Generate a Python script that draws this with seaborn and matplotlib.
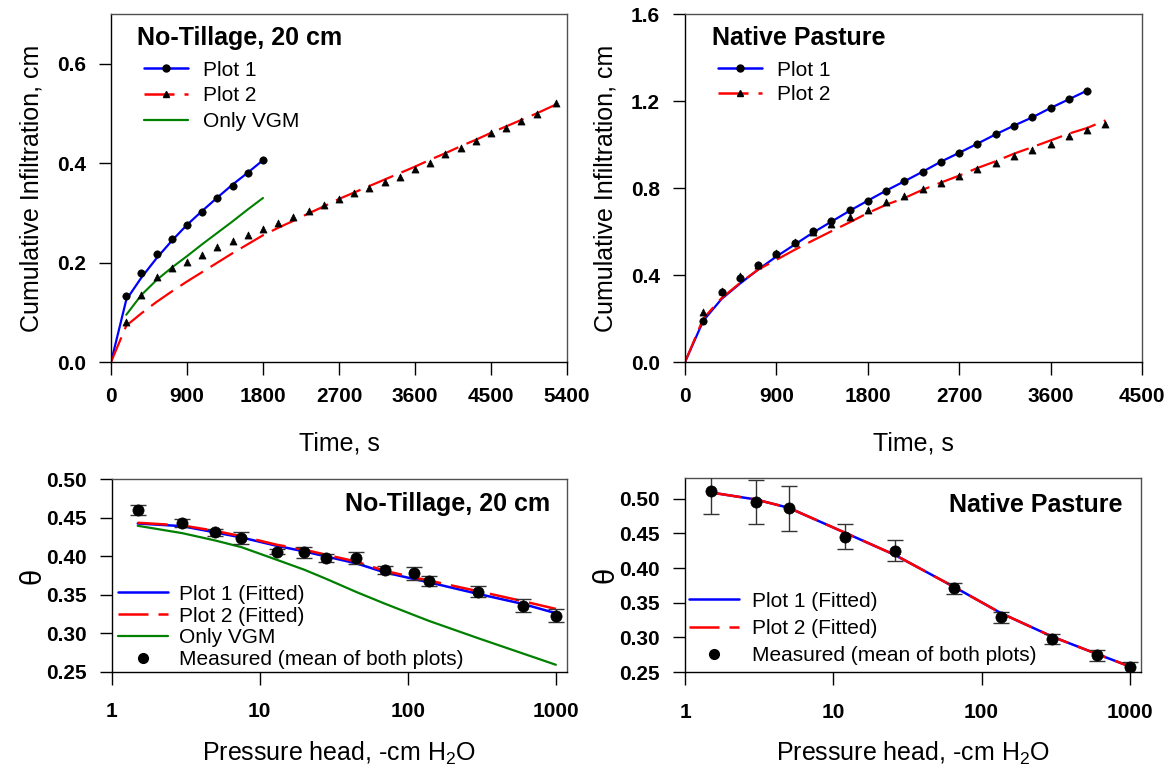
import numpy as np
import pandas as pd
import matplotlib
matplotlib.use("Agg")
import matplotlib.pyplot as plt
from matplotlib.lines import Line2D
from matplotlib.ticker import FixedLocator, NullLocator, FixedFormatter
import seaborn as sns

# ---------------- data ----------------
# Top-left: No-Tillage, 20 cm (cumulative infiltration)
nt_p1_t = [180, 360, 540, 720, 900, 1080, 1260, 1440, 1620, 1800]
nt_p1_meas = [0.132, 0.180, 0.217, 0.247, 0.276, 0.302, 0.330, 0.355, 0.380, 0.406]
nt_p1_fit_t = [0, 180, 360, 540, 720, 900, 1080, 1260, 1440, 1620, 1800]
nt_p1_fit = [0.0, 0.125, 0.170, 0.209, 0.244, 0.276, 0.304, 0.331, 0.357, 0.381, 0.406]
nt_vgm_t = [180, 360, 540, 720, 900, 1080, 1260, 1440, 1620, 1800]
nt_vgm = [0.095, 0.135, 0.165, 0.190, 0.213, 0.237, 0.260, 0.283, 0.307, 0.330]
nt_p2_t = [180, 360, 540, 720, 900, 1080, 1260, 1440, 1620, 1800, 1980, 2160, 2340, 2520,
           2700, 2880, 3060, 3240, 3420, 3600, 3780, 3960, 4140, 4320, 4500, 4680, 4860,
           5040, 5270]
nt_p2_meas = [0.080, 0.135, 0.170, 0.189, 0.202, 0.215, 0.232, 0.243, 0.255, 0.268, 0.279,
              0.292, 0.304, 0.316, 0.327, 0.339, 0.351, 0.363, 0.373, 0.389, 0.401, 0.418,
              0.431, 0.444, 0.461, 0.471, 0.485, 0.498, 0.522]
nt_p2_fit_t = [0] + nt_p2_t
nt_p2_fit = [0.0, 0.073, 0.098, 0.121, 0.142, 0.162, 0.181, 0.200, 0.219, 0.237, 0.255,
             0.270, 0.284, 0.299, 0.313, 0.328, 0.341, 0.354, 0.367, 0.380, 0.393, 0.407,
             0.420, 0.434, 0.447, 0.461, 0.474, 0.487, 0.500, 0.518]

# Top-right: Native Pasture (cumulative infiltration)
np_p1_t = [180 * i for i in range(1, 23)]
np_p1_meas = [0.187, 0.320, 0.386, 0.444, 0.498, 0.549, 0.601, 0.650, 0.697, 0.742, 0.788,
              0.831, 0.875, 0.921, 0.962, 1.004, 1.047, 1.087, 1.125, 1.168, 1.208, 1.248]
np_p1_fit_t = [0] + np_p1_t
np_p1_fit = [0.0, 0.190, 0.290, 0.360, 0.425, 0.485, 0.540, 0.595, 0.645, 0.695, 0.742,
             0.788, 0.831, 0.875, 0.921, 0.962, 1.004, 1.047, 1.087, 1.125, 1.168, 1.208,
             1.248]
np_p2_t = [180 * i for i in range(1, 24)]
np_p2_meas = [0.230, 0.325, 0.394, 0.448, 0.501, 0.550, 0.596, 0.634, 0.667, 0.697, 0.736,
              0.765, 0.797, 0.825, 0.857, 0.887, 0.915, 0.946, 0.973, 1.004, 1.038, 1.065,
              1.096]
np_p2_fit_t = [0] + np_p2_t
np_p2_fit = [0.0, 0.200, 0.294, 0.363, 0.425, 0.470, 0.516, 0.559, 0.601, 0.642, 0.685,
             0.723, 0.754, 0.792, 0.825, 0.857, 0.892, 0.923, 0.958, 0.988, 1.019, 1.050,
             1.076, 1.111]

# Bottom-left: No-Tillage, 20 cm (retention)
h_nt = [1.5, 3, 5, 7.5, 13, 20, 28, 45, 70, 110, 140, 300, 600, 1000]
theta_nt = [0.460, 0.443, 0.431, 0.424, 0.406, 0.405, 0.398, 0.398, 0.382, 0.378, 0.368,
            0.354, 0.336, 0.323]
err_nt = [0.006, 0.005, 0.005, 0.008, 0.003, 0.0075, 0.005, 0.0075, 0.0055, 0.0085, 0.006,
          0.007, 0.008, 0.0085]
fit1_nt = [0.4426, 0.4391, 0.4310, 0.4245, 0.4136, 0.4063, 0.3998, 0.3907, 0.3790, 0.3704,
           0.3660, 0.3510, 0.3380, 0.3260]
fit2_nt = [0.4435, 0.4400, 0.4330, 0.4260, 0.4150, 0.4085, 0.4020, 0.3930, 0.3810, 0.3725,
           0.3683, 0.3545, 0.3416, 0.3316]
vgm_nt = [0.4396, 0.4300, 0.4205, 0.4119, 0.3955, 0.3825, 0.3708, 0.3535, 0.3384, 0.3236,
          0.3158, 0.2934, 0.2736, 0.2590]

# Bottom-right: Native Pasture (retention)
h_np = [1.5, 3, 5, 12, 26, 65, 135, 300, 600, 1000]
theta_np = [0.511, 0.495, 0.486, 0.445, 0.425, 0.371, 0.329, 0.298, 0.274, 0.257]
err_np = [0.033, 0.032, 0.032, 0.018, 0.015, 0.008, 0.008, 0.007, 0.008, 0.008]
fit1_np = [0.509, 0.499, 0.487, 0.451, 0.419, 0.373, 0.335, 0.301, 0.276, 0.258]
fit2_np = [0.509, 0.499, 0.487, 0.451, 0.419, 0.373, 0.335, 0.301, 0.276, 0.258]

time_ticks_nt = [0, 900, 1800, 2700, 3600, 4500, 5400]
time_ticks_np = [0, 900, 1800, 2700, 3600, 4500]
h_ticks = [1, 10, 100, 1000]
h_tick_labels = ["1", "10", "100", "1000"]

# ---------------- style ----------------
sns.set_theme(style="ticks")
plt.rcParams["font.family"] = ["Liberation Sans", "DejaVu Sans"]
plt.rcParams["mathtext.fontset"] = "custom"
plt.rcParams["mathtext.rm"] = "Liberation Sans"
plt.rcParams["mathtext.it"] = "Liberation Sans"
for key in ["text.color", "axes.labelcolor", "xtick.color", "ytick.color",
            "axes.edgecolor"]:
    plt.rcParams[key] = "black"

BLUE = "#0000FF"
RED = "#FF0000"
GREEN = "#008000"
DASH = (0, (12, 4))

fig = plt.figure(figsize=(11.69, 7.66), dpi=100)
ax1 = fig.add_axes([0.0950, 0.5274, 0.3900, 0.4543])
ax2 = fig.add_axes([0.5860, 0.5274, 0.3909, 0.4543])
ax3 = fig.add_axes([0.0955, 0.1231, 0.3898, 0.2512])
ax4 = fig.add_axes([0.5860, 0.1227, 0.3901, 0.2533])


def style_axes(ax, xpad=9):
    for side in ["left", "bottom"]:
        ax.spines[side].set_color("black")
        ax.spines[side].set_linewidth(1.0)
    for side in ["top", "right"]:
        ax.spines[side].set_visible(True)
        ax.spines[side].set_color("#505050")
        ax.spines[side].set_linewidth(1.0)
    ax.tick_params(axis="both", which="major", direction="out", length=9, width=1,
                   color="black", labelcolor="black", labelsize=15, pad=9)
    ax.tick_params(axis="x", which="major", pad=xpad)
    ax.tick_params(axis="both", which="minor", length=0)
    for lab in ax.get_xticklabels() + ax.get_yticklabels():
        lab.set_fontweight("bold")
    ax.grid(False)


def line(ax, x, y, color, lw=1.6, ls="-"):
    sns.lineplot(x=x, y=y, ax=ax, color=color, lw=lw, linestyle=ls,
                 estimator=None, sort=False, legend=False)


def pts(ax, x, y, marker, s):
    sns.scatterplot(x=x, y=y, ax=ax, color="black", marker=marker, s=s,
                    edgecolor="black", linewidth=0.5, legend=False, zorder=5)


# ---- top-left ----
line(ax1, nt_p1_fit_t, nt_p1_fit, BLUE)
line(ax1, nt_vgm_t, nt_vgm, GREEN, lw=1.5)
line(ax1, nt_p2_fit_t, nt_p2_fit, RED, ls=DASH)
pts(ax1, nt_p1_t, nt_p1_meas, "o", 28)
pts(ax1, nt_p2_t, nt_p2_meas, "^", 26)
ax1.set_xlim(0, 5400)
ax1.set_ylim(0, 0.70)
ax1.xaxis.set_major_locator(FixedLocator(time_ticks_nt))
ax1.yaxis.set_major_locator(FixedLocator([0.0, 0.2, 0.4, 0.6]))
ax1.set_yticklabels(["0.0", "0.2", "0.4", "0.6"])
ax1.set_xticklabels([str(v) for v in time_ticks_nt])

# ---- top-right ----
line(ax2, np_p1_fit_t, np_p1_fit, BLUE)
line(ax2, np_p2_fit_t, np_p2_fit, RED, ls=DASH)
pts(ax2, np_p1_t, np_p1_meas, "o", 28)
pts(ax2, np_p2_t, np_p2_meas, "^", 26)
ax2.set_xlim(0, 4500)
ax2.set_ylim(0, 1.6)
ax2.xaxis.set_major_locator(FixedLocator(time_ticks_np))
ax2.yaxis.set_major_locator(FixedLocator([0.0, 0.4, 0.8, 1.2, 1.6]))
ax2.set_yticklabels(["0.0", "0.4", "0.8", "1.2", "1.6"])
ax2.set_xticklabels([str(v) for v in time_ticks_np])

# ---- bottom-left ----
ax3.errorbar(h_nt, theta_nt, yerr=err_nt, fmt="none", ecolor="#333333", elinewidth=1,
             capsize=6, capthick=1, zorder=3)
line(ax3, h_nt, vgm_nt, GREEN, lw=1.6)
line(ax3, h_nt, fit1_nt, BLUE, lw=1.8)
line(ax3, h_nt, fit2_nt, RED, lw=1.8, ls=DASH)
pts(ax3, h_nt, theta_nt, "o", 65)
ax3.set_xscale("log")
ax3.set_xlim(1, 1195)
ax3.set_ylim(0.25, 0.50)

# ---- bottom-right ----
ax4.errorbar(h_np, theta_np, yerr=err_np, fmt="none", ecolor="#333333", elinewidth=1,
             capsize=6, capthick=1, zorder=3)
line(ax4, h_np, fit1_np, BLUE, lw=1.8)
line(ax4, h_np, fit2_np, RED, lw=1.8, ls=DASH)
pts(ax4, h_np, theta_np, "o", 65)
ax4.set_xscale("log")
ax4.set_xlim(1, 1190)
ax4.set_ylim(0.25, 0.53)

for ax in (ax3, ax4):
    ax.xaxis.set_major_locator(FixedLocator(h_ticks))
    ax.xaxis.set_minor_locator(NullLocator())
    ax.xaxis.set_major_formatter(FixedFormatter(h_tick_labels))
    ax.yaxis.set_major_locator(FixedLocator([0.25, 0.30, 0.35, 0.40, 0.45, 0.50]))
    ax.set_yticklabels(["0.25", "0.30", "0.35", "0.40", "0.45", "0.50"])

style_axes(ax1)
style_axes(ax2)
style_axes(ax3, xpad=13)
style_axes(ax4, xpad=13)

# labels
for ax in (ax1, ax2):
    ax.set_xlabel("Time, s", fontsize=18, labelpad=18)
    ax.set_ylabel("Cumulative Infiltration, cm", fontsize=18, labelpad=10)
for ax in (ax3, ax4):
    ax.set_xlabel("Pressure head, -cm H$_2$O", fontsize=18, labelpad=13)
    ax.set_ylabel("θ", fontsize=21, labelpad=0)

# titles inside panels
ax1.text(0.057, 0.911, "No-Tillage, 20 cm", transform=ax1.transAxes, fontsize=18,
         fontweight="bold", ha="left", va="baseline")
ax2.text(0.059, 0.911, "Native Pasture", transform=ax2.transAxes, fontsize=18,
         fontweight="bold", ha="left", va="baseline")
ax3.text(0.962, 0.872, "No-Tillage, 20 cm", transform=ax3.transAxes, fontsize=18,
         fontweight="bold", ha="right", va="center")
ax4.text(0.960, 0.861, "Native Pasture", transform=ax4.transAxes, fontsize=18,
         fontweight="bold", ha="right", va="center")

# legends
h_p1 = Line2D([], [], color=BLUE, lw=1.8, marker="o", markersize=5,
              markerfacecolor="black", markeredgecolor="black")
h_p2 = Line2D([], [], color=RED, lw=1.8, linestyle=DASH, marker="^", markersize=5,
              markerfacecolor="black", markeredgecolor="black")
h_vgm = Line2D([], [], color=GREEN, lw=1.6)
leg_kw = dict(frameon=False, fontsize=15, borderpad=0, borderaxespad=0,
              handlelength=2.1, handletextpad=0.75, numpoints=1)
ax1.legend([h_p1, h_p2, h_vgm], ["Plot 1", "Plot 2", "Only VGM"], loc="upper left",
           bbox_to_anchor=(0.072, 0.866), labelspacing=0.32, **leg_kw)
ax2.legend([h_p1, h_p2], ["Plot 1", "Plot 2"], loc="upper left",
           bbox_to_anchor=(0.072, 0.866), labelspacing=0.25, **leg_kw)

f1 = Line2D([], [], color=BLUE, lw=1.8)
f2 = Line2D([], [], color=RED, lw=1.8, linestyle=DASH)
fm = Line2D([], [], color="black", lw=0, marker="o", markersize=7)
ax3.legend([f1, f2, h_vgm, fm],
           ["Plot 1 (Fitted)", "Plot 2 (Fitted)", "Only VGM", "Measured (mean of both plots)"],
           loc="lower left", bbox_to_anchor=(0.014, 0.012), labelspacing=0.14,
           **{**leg_kw, "handlelength": 2.4, "handletextpad": 0.55})
ax4.legend([f1, f2, fm],
           ["Plot 1 (Fitted)", "Plot 2 (Fitted)", "Measured (mean of both plots)"],
           loc="lower left", bbox_to_anchor=(0.009, 0.035), labelspacing=0.4,
           **{**leg_kw, "handlelength": 2.4, "handletextpad": 0.6})

fig.savefig("out.png", dpi=100)
